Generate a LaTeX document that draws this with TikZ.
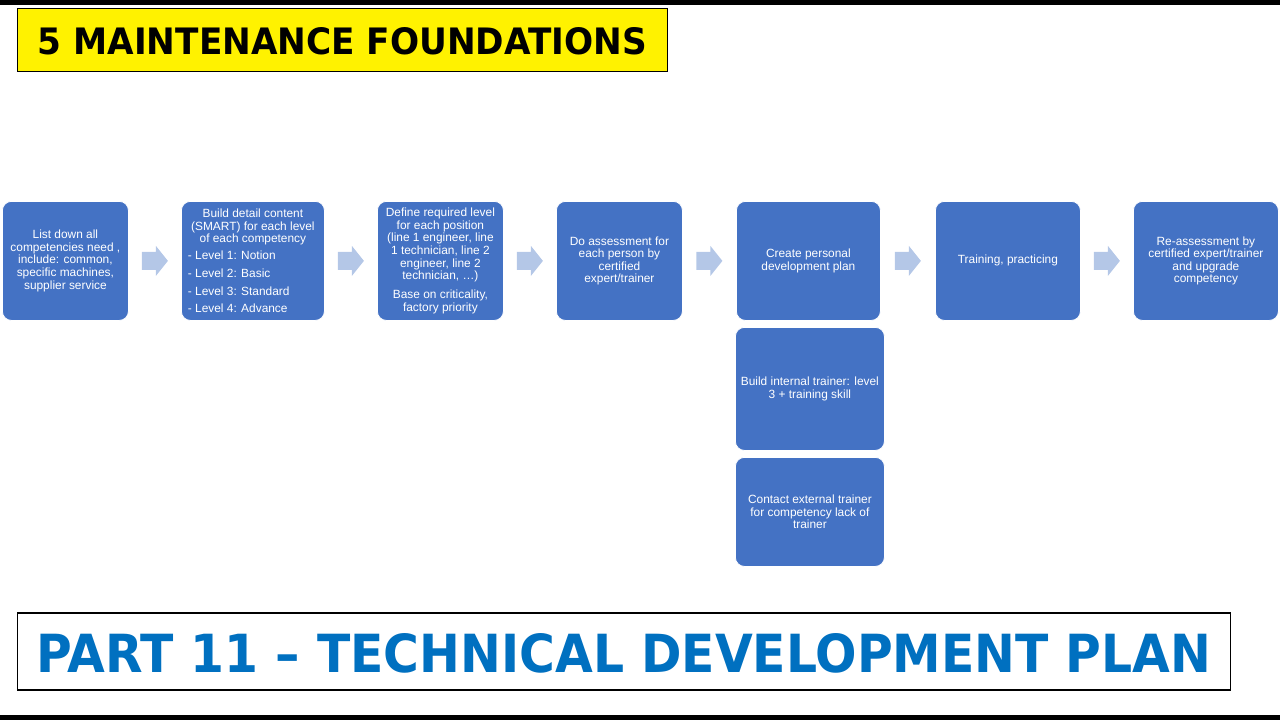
\documentclass[tikz,border=0pt]{standalone}
\usepackage{fontspec}
\setmainfont{Liberation Sans}
\newfontfamily\titlefont{DejaVu Sans}
\usetikzlibrary{calc}
\definecolor{boxblue}{HTML}{4472C4}
\definecolor{arrowblue}{HTML}{B4C7E7}
\definecolor{titleblue}{HTML}{0070C0}
\tikzset{
  stepbox/.style={draw=white, line width=0.8pt, fill=boxblue, rounded corners=9pt,
    anchor=north west, text=white, align=center, inner sep=2pt,
    font=\fontsize{11.9}{12.6}\selectfont},
  blockarrow/.style={fill=arrowblue},
  headbox/.style={draw=black, line width=1.6pt, anchor=north west, inner sep=0pt},
}
\newcommand\flowarrow[2]{%
  \fill[blockarrow, shift={($(#1.east)!0.5!(#2.west)$)}]
    (-13,-9) -- (1,-9) -- (1,-15) -- (13,0) -- (1,15) -- (1,9) -- (-13,9) -- cycle;}
\begin{document}
\begin{tikzpicture}[x=1pt,y=-1pt]
\useasboundingbox (0,0) rectangle (1280,720);
\fill[black] (0,0) rectangle (1280,5);
\fill[black] (0,715) rectangle (1280,720);

\node[headbox, fill=yellow, minimum width=650pt, minimum height=63pt] (title) at (16.5,7.5) {};
\node (titletext) at ($(title.center)+(0,1.5)$) {\resizebox{609pt}{27pt}{\titlefont\bfseries 5 MAINTENANCE FOUNDATIONS}};

\node[headbox, fill=white, minimum width=1213pt, minimum height=77pt] (part) at (16.5,612) {};
\node (parttext) at ($(part.center)+(0,2)$) {\color{titleblue}\resizebox{1175pt}{39pt}{\titlefont\bfseries PART 11 – TECHNICAL DEVELOPMENT PLAN}};

\node[stepbox, minimum width=126pt, minimum height=119pt] (b1) at (2,201)
  {List down all\\competencies need ,\\include: common,\\specific machines,\\supplier service};
\node[stepbox, minimum width=143pt, minimum height=119pt] (b2) at (181,201)
  {Build detail content\\(SMART) for each level\\of each competency\\[4.5pt]
   \makebox[130pt][l]{- Level 1: Notion}\\[5pt]
   \makebox[130pt][l]{- Level 2: Basic}\\[5pt]
   \makebox[130pt][l]{- Level 3: Standard}\\[5pt]
   \makebox[130pt][l]{- Level 4: Advance}};
\node[stepbox, minimum width=126pt, minimum height=119pt] (b3) at (377,201)
  {Define required level\\for each position\\(line 1 engineer, line\\1 technician, line 2\\engineer, line 2\\technician, \dots)\\[6.5pt]Base on criticality,\\factory priority};
\node[stepbox, minimum width=126pt, minimum height=119pt] (b4) at (556,201)
  {Do assessment for\\each person by\\certified\\expert/trainer};
\node[stepbox, minimum width=144pt, minimum height=119pt] (b5) at (736,201)
  {Create personal\\development plan};
\node[stepbox, minimum width=145pt, minimum height=119pt] (b6) at (935,201)
  {Training, practicing};
\node[stepbox, minimum width=145pt, minimum height=119pt] (b7) at (1133,201)
  {Re-assessment by\\certified expert/trainer\\and upgrade\\competency};
\node[stepbox, minimum width=149pt, minimum height=123pt] (s1) at (735,327)
  {Build internal trainer: level\\3 + training skill};
\node[stepbox, minimum width=149pt, minimum height=109pt] (s2) at (735,457)
  {Contact external trainer\\for competency lack of\\trainer};

\flowarrow{b1}{b2}
\flowarrow{b2}{b3}
\flowarrow{b3}{b4}
\flowarrow{b4}{b5}
\flowarrow{b5}{b6}
\flowarrow{b6}{b7}
\end{tikzpicture}
\end{document}
